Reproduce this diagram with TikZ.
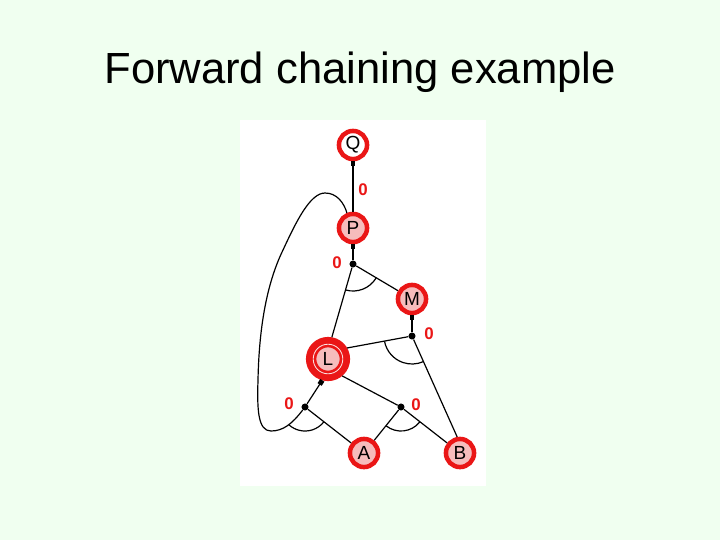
\documentclass[tikz,border=0pt]{standalone}
\usepackage{fontspec}
\setmainfont{Liberation Sans}
\usetikzlibrary{arrows.meta}
\definecolor{bgcol}{RGB}{240,255,240}
\definecolor{ringred}{RGB}{234,22,22}
\definecolor{fillpink}{RGB}{246,188,188}
\tikzset{
  fact/.style={circle, draw=ringred, fill=fillpink, line width=3.2pt, minimum size=20pt, inner sep=0pt, font=\fontsize{13.5}{16}\selectfont},
  goal/.style={fact, fill=white},
  inferred/.style={fact, line width=7.4pt, minimum size=24pt, outer sep=3.7pt},
  andpt/.style={circle, fill=black, inner sep=0pt, minimum size=5pt},
  zero/.style={text=ringred, font=\fontsize{12}{14}\selectfont\bfseries},
  figlines/.style={line width=0.85pt},
  sqtip/.style={-{Square[length=3.5pt,width=3.5pt]}},
}

\begin{document}
\begin{tikzpicture}[x=0.025cm, y=-0.025cm]
\useasboundingbox (0,0) rectangle (720,540);
\fill[bgcol] (0,0) rectangle (720,540);
\fill[white] (240,120) rectangle (486,486);
\node[anchor=base, font=\fontsize{31}{37}\selectfont] (title) at (360,83) {Forward chaining example};
% facts and symbols
\node[goal] (Q) at (353,145) {Q};
\node[fact] (P) at (353,228) {P};
\node[fact] (M) at (412,299) {M};
\node[inferred] (L) at (328,359) {L};
\draw[fillpink!45!white, line width=0.6pt] (L.center) circle (0.37cm);
\node[fact] (A) at (364,453) {A};
\node[fact] (B) at (460,453) {B};
% and-points
\node[andpt] (d1) at (353,264) {};
\node[andpt] (d2) at (412,336) {};
\node[andpt] (d3) at (305,407) {};
\node[andpt] (d4) at (401,407) {};
% counts
\node[zero] (z0) at (363,190) {0};
\node[zero] (z1) at (337,263) {0};
\node[zero] (z2) at (429,334) {0};
\node[zero] (z3) at (289,404) {0};
\node[zero] (z4) at (416,405) {0};
% clauses
\draw[figlines,sqtip] (P) -- (Q);
\draw[figlines,sqtip] (d1) -- (P);
\draw[figlines] (d1) -- (L.80);
\draw[figlines] (d1) -- (M);
\draw[figlines,sqtip] (d2) -- (M);
\draw[figlines] (d2) -- (L.30);
\draw[figlines] (d2) -- (B.100);
\draw[figlines,sqtip] (d3) -- (L.-105);
\draw[figlines] (d3) -- (A);
\draw[figlines] (d4) -- (L.-50);
\draw[figlines] (d4) -- (A);
\draw[figlines] (d4) -- (B);
\draw[figlines] (d3) .. controls (292,424) and (283,431) .. (271,431)
  .. controls (258,431) and (257,410) .. (258,380)
  .. controls (259,330) and (266,285) .. (283,250)
  .. controls (296,222) and (310,193) .. (325,193)
  .. controls (337,193) and (344,203) .. (P.112);
% and-arcs
\draw[figlines] ([shift={(-106:0.675cm)}]d1.center) arc[start angle=-106, end angle=-31, radius=0.675cm];
\draw[figlines] ([shift={(-169:0.7cm)}]d2.center) arc[start angle=-169, end angle=-66, radius=0.7cm];
\draw[figlines] ([shift={(-132:0.6cm)}]d3.center) arc[start angle=-132, end angle=-39, radius=0.6cm];
\draw[figlines] ([shift={(-128:0.6cm)}]d4.center) arc[start angle=-128, end angle=-39, radius=0.6cm];
\end{tikzpicture}
\end{document}
